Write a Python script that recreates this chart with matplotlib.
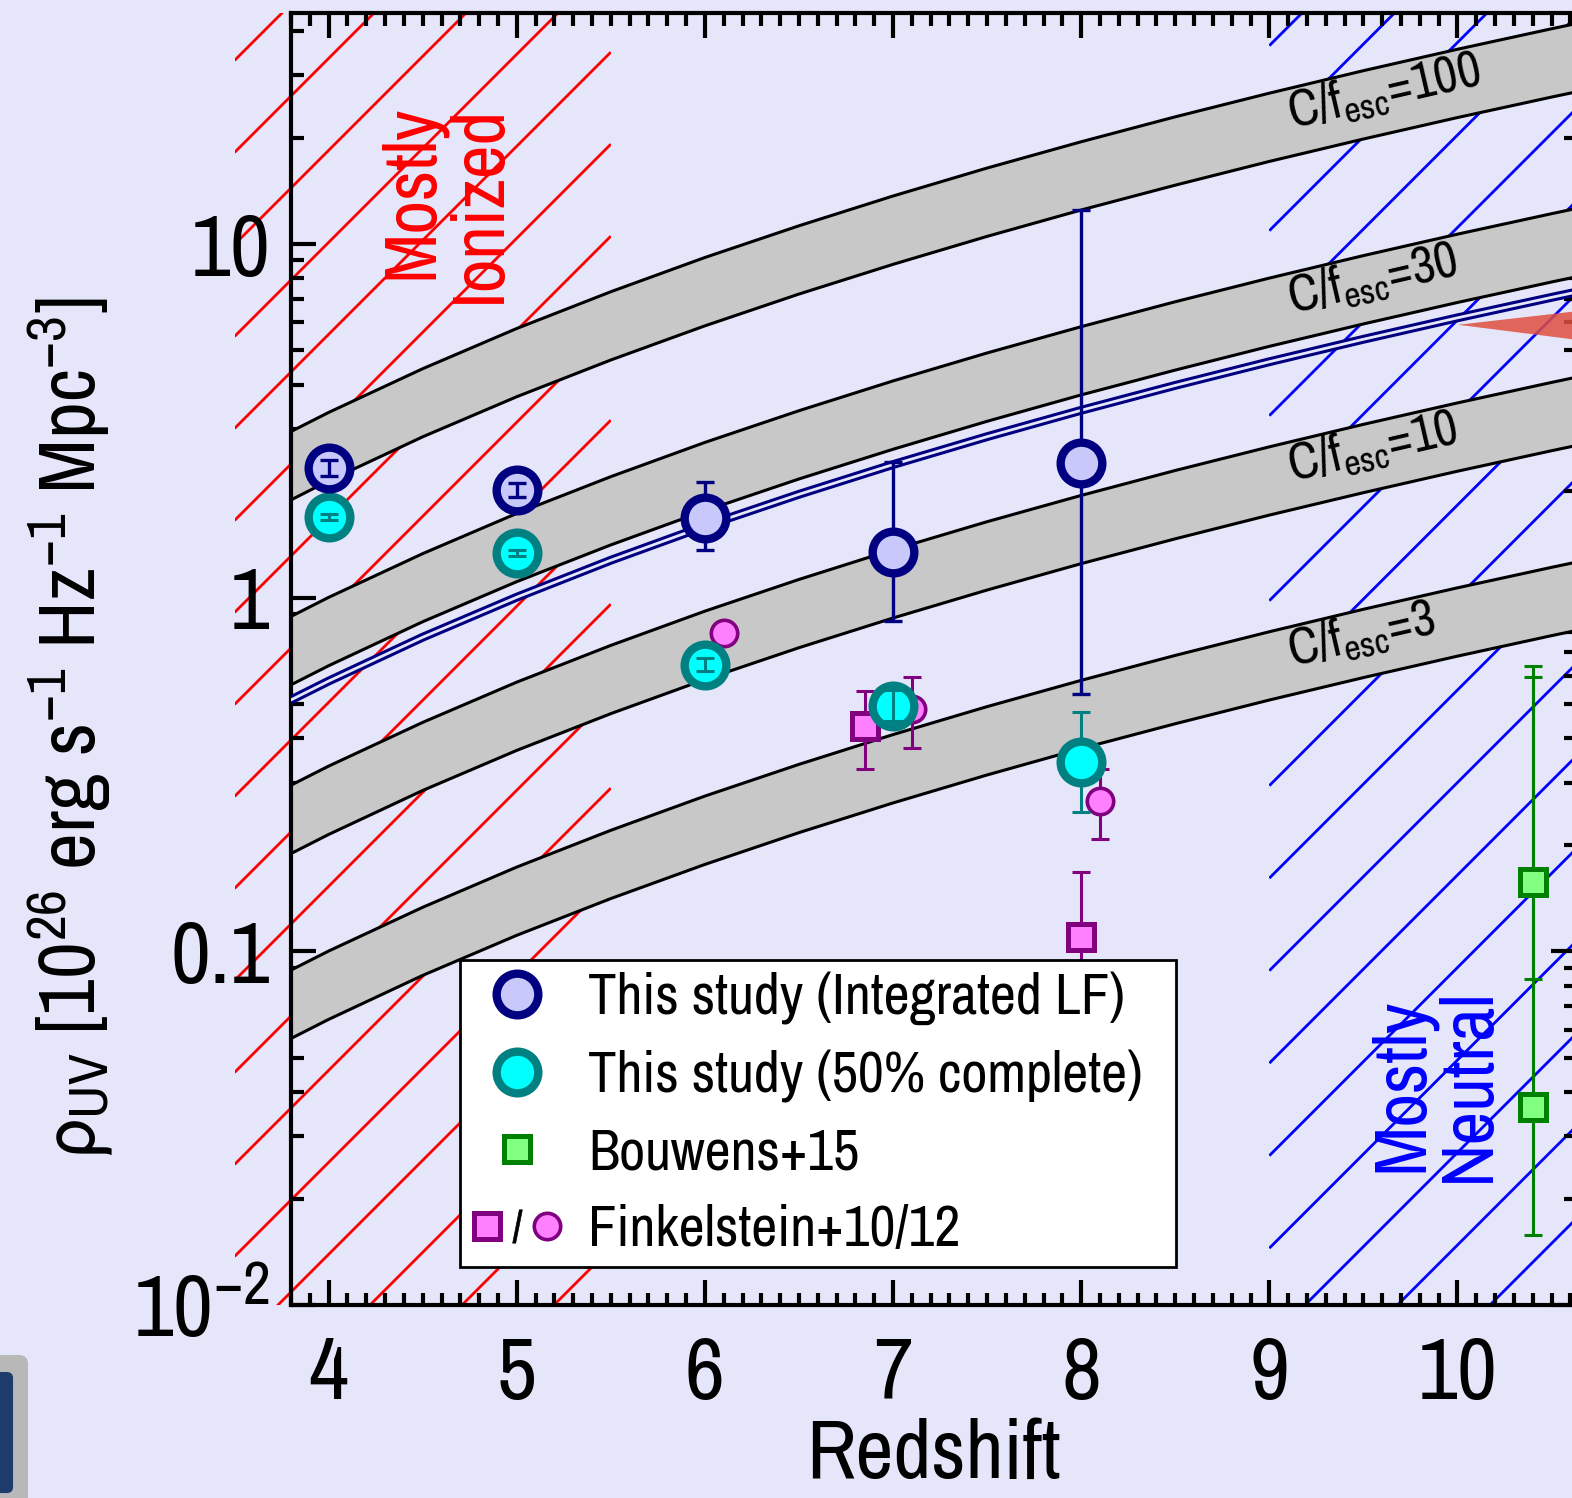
import numpy as np
import matplotlib
matplotlib.use('Agg')
import matplotlib.pyplot as plt
import matplotlib.ticker as mticker
from matplotlib.lines import Line2D
from matplotlib.legend_handler import HandlerTuple
from matplotlib.collections import LineCollection
from matplotlib.patches import Rectangle, FancyBboxPatch
from matplotlib.transforms import IdentityTransform

plt.rcParams['font.family'] = ['Archivo Narrow', 'DejaVu Sans']
plt.rcParams['mathtext.fontset'] = 'custom'
plt.rcParams['mathtext.rm'] = 'Archivo Narrow'
plt.rcParams['mathtext.it'] = 'Archivo Narrow:italic'
plt.rcParams['mathtext.bf'] = 'Archivo Narrow:bold'
plt.rcParams['mathtext.default'] = 'rm'
plt.rcParams['mathtext.fallback'] = 'stixsans'

# --- data ---
z_model = [3.8, 4.0, 4.5, 5.0, 5.5, 6.0, 6.5, 7.0, 7.5, 8.0, 8.5, 9.0, 9.5, 10.0, 10.5, 10.7]
# band edges for C/f_esc = 1 (scaled by the C/f_esc value of each band)
band_upper = [0.0295, 0.0334, 0.0444, 0.0577, 0.0733, 0.0916, 0.1126, 0.1367,
              0.1640, 0.1946, 0.2289, 0.2670, 0.3091, 0.3554, 0.4061, 0.4276]
band_lower = [0.0189, 0.0214, 0.0285, 0.0370, 0.0470, 0.0587, 0.0722, 0.0876,
              0.1051, 0.1248, 0.1467, 0.1712, 0.1981, 0.2278, 0.2603, 0.2741]
cfesc = [100, 30, 10, 3]
fit_rho = [0.514, 0.581, 0.773, 1.003, 1.276, 1.594, 1.960, 2.379,
           2.853, 3.387, 3.983, 4.646, 5.378, 6.184, 7.066, 7.441]

z_wedge = [10.0, 10.7]
wedge_lo = [5.93, 5.32]
wedge_hi = [5.93, 6.54]

z_this = [4, 5, 6, 7, 8]
rho_int = [2.32, 2.01, 1.68, 1.345, 2.40]
rho_int_lo = [2.21, 1.92, 1.363, 0.858, 0.533]
rho_int_hi = [2.45, 2.11, 2.12, 2.42, 12.48]
rho_50 = [1.69, 1.336, 0.644, 0.493, 0.343]
rho_50_lo = [1.657, 1.31, 0.620, 0.448, 0.247]
rho_50_hi = [1.724, 1.362, 0.675, 0.547, 0.474]

z_bou = [10.4, 10.4]
rho_bou = [0.1567, 0.0364]
rho_bou_lo = [0.0834, 0.0158]
rho_bou_hi = [0.640, 0.596]

z_fink10 = [6.85, 8.0]
rho_fink10 = [0.433, 0.1096]
rho_fink10_lo = [0.327, 0.06]
rho_fink10_hi = [0.545, 0.168]

z_fink12 = [6.1, 7.1, 8.1]
rho_fink12 = [0.793, 0.484, 0.266]
rho_fink12_lo = [0.793, 0.376, 0.2075]
rho_fink12_hi = [0.793, 0.596, 0.327]

bg = '#E6E6FA'
fig = plt.figure(figsize=(15.72, 14.98), dpi=100, facecolor=bg)
ax = fig.add_axes([0.18511, 0.12884, 0.81743, 0.86248], facecolor=bg)
ax.set_yscale('log')
ax.set_xlim(3.8, 10.63)
ax.set_ylim(0.01, 45)


def hatch(ax, z0, z1, b0, step, color):
    ymin, ymax = ax.get_ylim()
    x0, y0 = ax.transData.transform((z0, ymin))
    x1, y1 = ax.transData.transform((z1, ymax))
    k_lo = int(np.floor((y0 - x1 - b0) / step)) - 1
    k_hi = int(np.ceil((y1 - x0 - b0) / step)) + 1
    segs = []
    for k in range(k_lo, k_hi + 1):
        b = b0 + k * step
        segs.append([(x0, x0 + b), (x1, x1 + b)])
    lc = LineCollection(segs, colors=color, linewidths=2.0,
                        transform=IdentityTransform(), zorder=1)
    ax.add_collection(lc, autolim=False)
    lc.set_clip_path(Rectangle((z0, ymin), z1 - z0, ymax - ymin,
                               transform=ax.transData))


hatch(ax, 3.5, 5.5, 1111, 92, 'red')
hatch(ax, 9.0, 11.0, -372, 92.5, 'blue')

# C/f_esc bands
for c in cfesc:
    lo = np.array(band_lower) * c
    hi = np.array(band_upper) * c
    ax.fill_between(z_model, lo, hi, color='#C8C8C8', lw=0, zorder=2)
    ax.plot(z_model, lo, color='k', lw=2.2, zorder=2.5)
    ax.plot(z_model, hi, color='k', lw=2.2, zorder=2.5)
    zc = 9.12
    mid = np.sqrt(np.interp(zc, z_model, lo) * np.interp(zc, z_model, hi)) * 0.96
    ax.text(zc, mid, 'C/f$_{\\rm esc}$=%d' % c, fontsize=37, rotation=13,
            rotation_mode='anchor', ha='left', va='baseline', zorder=3)

# fit line (double line)
ax.plot(z_model, fit_rho, color='#000080', lw=6.4, zorder=3)
ax.plot(z_model, fit_rho, color=bg, lw=2.0, zorder=3.1)

ax.fill_between(z_wedge, wedge_lo, wedge_hi, color='#E0503F', alpha=0.85, lw=0, zorder=3.5)


def ebar(z, y, lo, hi, color, z_mark, ms, marker, mfc, mew, lw=2.2):
    z = np.array(z)
    y = np.array(y)
    lo = np.array(lo)
    hi = np.array(hi)
    ax.plot(z, y, ls='none', marker=marker, ms=ms, mfc=mfc, mec=color, mew=mew,
            zorder=z_mark)
    # error bars that fit inside the symbol are drawn over it
    has_err = hi > lo
    inner = np.log10(hi / lo) < 0.12
    for sel, zo in ((has_err & ~inner, z_mark - 0.1), (has_err & inner, z_mark + 0.1)):
        if sel.any():
            ax.errorbar(z[sel], y[sel], yerr=[y[sel] - lo[sel], hi[sel] - y[sel]],
                        ls='none', ecolor=color, elinewidth=lw, capsize=6.5,
                        capthick=lw, zorder=zo)


ebar(z_fink10, rho_fink10, rho_fink10_lo, rho_fink10_hi, '#800080', 5, 19, 's', '#FF80FF', 3.6)
ebar(z_fink12, rho_fink12, rho_fink12_lo, rho_fink12_hi, '#800080', 5, 19, 'o', '#FF80FF', 2.6)
ebar(z_bou, rho_bou, rho_bou_lo, rho_bou_hi, '#008000', 5, 19, 's', '#80FF80', 3.6)
ebar(z_this, rho_50, rho_50_lo, rho_50_hi, '#008080', 6, 30, 'o', '#00FFFF', 6)
ebar(z_this, rho_int, rho_int_lo, rho_int_hi, '#000080', 7, 30, 'o', '#C8C8FA', 6, lw=2.4)

# region labels
ax.text(4.62, 13.0, 'Mostly\nIonized', color='red', fontsize=53, rotation=90,
        ha='center', va='center', multialignment='right', linespacing=1.0, zorder=4)
ax.text(9.88, 0.042, 'Mostly\nNeutral', color='blue', fontsize=53, rotation=90,
        ha='center', va='center', multialignment='center', linespacing=1.0, zorder=4)

# axes styling
ax.set_xticks([4, 5, 6, 7, 8, 9, 10])
ax.xaxis.set_minor_locator(mticker.MultipleLocator(0.1))
ax.yaxis.set_major_locator(mticker.FixedLocator([0.01, 0.1, 1, 10]))
ax.yaxis.set_major_formatter(mticker.FixedFormatter(['10$^{-2}$', '0.1', '1', '10']))
ax.yaxis.set_minor_locator(mticker.LogLocator(base=10, subs=np.arange(2, 10)))
ax.yaxis.set_minor_formatter(mticker.NullFormatter())
ax.tick_params(which='both', direction='in', top=True, right=True, width=3,
               labelsize=63)
ax.tick_params(which='major', length=18)
ax.tick_params(which='minor', length=9)
ax.tick_params(axis='x', pad=22)
ax.tick_params(axis='y', pad=15)
for s in ax.spines.values():
    s.set_linewidth(3)

ax.set_xlabel('Redshift', fontsize=60, labelpad=3)
ax.text(-0.172, 0.4466, r'$\rho_{\rm UV}$ [10$^{26}$ erg s$^{-1}$ Hz$^{-1}$ Mpc$^{-3}$]',
        transform=ax.transAxes, rotation=90, ha='center', va='center', fontsize=58)

# legend
h_int = Line2D([], [], ls='none', marker='o', ms=30, mfc='#C8C8FA', mec='#000080', mew=6)
h_50 = Line2D([], [], ls='none', marker='o', ms=30, mfc='#00FFFF', mec='#008080', mew=6)
h_bou = Line2D([], [], ls='none', marker='s', ms=19, mfc='#80FF80', mec='#008000', mew=3.6)
h_f10 = Line2D([], [], ls='none', marker='s', ms=19, mfc='#FF80FF', mec='#800080', mew=3.6)
h_sl = Line2D([], [], ls='none', marker='$/$', ms=24, mfc='k', mec='k', mew=0.5)
h_f12 = Line2D([], [], ls='none', marker='o', ms=19, mfc='#FF80FF', mec='#800080', mew=2.6)
leg = ax.legend([h_int, h_50, h_bou, (h_f10, h_sl, h_f12)],
                ['This study (Integrated LF)', 'This study (50% complete)',
                 'Bouwens+15', 'Finkelstein+10/12'],
                handler_map={tuple: HandlerTuple(ndivide=None, pad=0)},
                loc='lower left', bbox_to_anchor=(0.1315, 0.0294, 0.5572, 0.2),
                mode='expand', borderaxespad=0, fontsize=41, borderpad=0.2,
                handlelength=1.6, handletextpad=0.45, labelspacing=0.43,
                fancybox=False, framealpha=1, facecolor='white', edgecolor='black')
leg.get_frame().set_linewidth(2)
leg.set_zorder(10)

# partial icon at the lower-left corner
fig.add_artist(FancyBboxPatch((-0.02, -0.02), 0.0378, 0.1155,
                              boxstyle='round,pad=0,rounding_size=0.006',
                              transform=fig.transFigure, fc='#B8B8B8', ec='none'))
fig.add_artist(FancyBboxPatch((-0.02, 0.0033), 0.0283, 0.0808,
                              boxstyle='round,pad=0,rounding_size=0.004',
                              transform=fig.transFigure, fc='#1E3B6E', ec='none'))

fig.savefig('out.png', dpi=100, facecolor=bg)
